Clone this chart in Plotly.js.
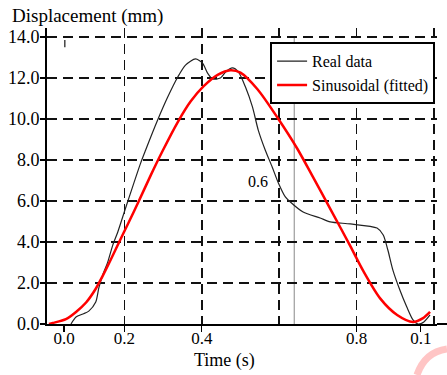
<!DOCTYPE html>
<html>
<head>
<meta charset="utf-8">
<script src="https://cdn.plot.ly/plotly-3.0.1.min.js"></script>
<style>html,body{margin:0;padding:0;background:#fff;}#chart{width:447px;height:375px;}</style>
</head>
<body>
<div id="chart"></div>
<script>
// Real data (black)
const timeReal = [0.062,0.075,0.093,0.108,0.126,0.134,0.144,0.157,0.170,0.183,0.204,0.242,0.255,0.286,0.312,0.338,0.358,0.384,0.402,0.415,0.428,0.448,0.462,0.479,0.495,0.513,0.531,0.546,0.564,0.582,0.598,0.616,0.629,0.662,0.706,0.732,0.784,0.853,0.869,0.881,0.894,0.912,0.930,0.946,0.959,0.974,0.990];
const dispReal = [0.0,0.34,0.49,0.63,1.07,1.76,2.39,3.02,3.85,4.49,5.71,7.85,8.49,9.95,11.07,12.05,12.63,12.93,12.73,12.24,11.95,12.0,12.3,12.49,12.29,11.56,10.59,9.46,8.49,7.66,6.88,6.20,5.95,5.46,5.17,4.98,4.88,4.68,4.34,3.61,2.63,1.66,0.83,0.20,0.0,0.10,0.44];
// Sinusoidal fit (red)
const timeFit = [0.005,0.015,0.049,0.075,0.101,0.126,0.144,0.165,0.186,0.211,0.235,0.268,0.299,0.338,0.371,0.405,0.441,0.474,0.500,0.544,0.598,0.647,0.688,0.737,0.784,0.817,0.861,0.905,0.946,0.972,0.990];
const dispFit = [0.0,0.05,0.24,0.59,1.05,1.72,2.35,3.15,3.98,4.95,5.9,7.25,8.45,9.85,10.85,11.6,12.15,12.38,12.26,11.45,10.0,8.55,7.15,5.45,3.8,2.6,1.25,0.44,0.10,0.29,0.59];

const yTickVals = [0,2,4,6,8,10,12,14];
const yTickText = ['0.0','2.0','4.0','6.0','8.0','10.0','12.0','14.0'];
const xGridVals = [0.2,0.4,0.6,0.8,1.0];
const xTickVals = [0.044,0.2,0.4,0.8,0.966];
const xTickText = ['0.0','0.2','0.4','0.8','0.1'];
const floatLabel = {text:'0.6', t:0.546, v:6.93};
const markerLineT = 0.639;

const serif = "'Liberation Serif', 'Times New Roman', serif";

const traces = [
  {x: timeReal, y: dispReal, type:'scatter', mode:'lines', name:'Real data',
   line:{color:'#222', width:1.2, shape:'spline', smoothing:0.7}},
  {x: timeFit, y: dispFit, type:'scatter', mode:'lines', name:'Sinusoidal (fitted)',
   line:{color:'#ff0000', width:2.5, shape:'spline', smoothing:0.8}},
  {x: [], y: [], xaxis:'x2', yaxis:'y', type:'scatter', mode:'lines', showlegend:false, hoverinfo:'skip'}
];

const layout = {
  width:447, height:375,
  margin:{l:47, r:10, t:28, b:51, pad:0},
  paper_bgcolor:'#fff', plot_bgcolor:'#fff',
  font:{family:serif, color:'#000'},
  title:{text:'Displacement (mm)', font:{family:serif, size:19, color:'#000'},
         x:12/447, xanchor:'left', xref:'container', y:1-15/375, yanchor:'middle', yref:'container'},
  showlegend:true,
  legend:{x:0.572, y:0.952, xanchor:'left', yanchor:'top', bgcolor:'#fff',
          bordercolor:'#000', borderwidth:2, tracegroupgap:0,
          font:{family:serif, size:16, color:'#000'}},
  xaxis:{range:[0,1.008], tickmode:'array', tickvals:xGridVals, showticklabels:false, ticks:'',
         showgrid:true, gridcolor:'#111', gridwidth:1.5, griddash:'10px,6px',
         zeroline:false, showline:true, linecolor:'#000', linewidth:2},
  xaxis2:{range:[0,1.008], overlaying:'x', anchor:'y', side:'bottom', tickmode:'array',
          tickvals:xTickVals, ticktext:xTickText, ticks:'outside', ticklen:7, tickwidth:1.2, tickcolor:'#000',
          ticklabelstandoff:-8,
          showgrid:false, zeroline:false, showline:false,
          tickfont:{family:serif, size:17, color:'#000'}},
  yaxis:{range:[0,14.44], tickmode:'array', tickvals:yTickVals, ticktext:yTickText,
         ticks:'outside', ticklen:5, tickwidth:1.5, tickcolor:'#000', ticklabelstandoff:-3,
         showgrid:true, gridcolor:'#111', gridwidth:1.5, griddash:'10px,6px',
         zeroline:false, showline:true, linecolor:'#000', linewidth:2,
         tickfont:{family:serif, size:18, color:'#000'}},
  annotations:[
    {text:floatLabel.text, x:floatLabel.t, y:floatLabel.v, xref:'x', yref:'y', showarrow:false,
     font:{family:serif, size:16, color:'#000'}, bgcolor:'rgba(255,255,255,0)'},
    {text:'Time (s)', x:(224-47)/390, y:(324-360)/296, xref:'paper', yref:'paper', showarrow:false,
     xanchor:'center', yanchor:'middle', font:{family:serif, size:18, color:'#000'}}
  ],
  shapes:[
    {type:'line', xref:'x', yref:'y', x0:markerLineT, x1:markerLineT, y0:0, y1:14, layer:'below',
     line:{color:'#888', width:1}},
    {type:'line', xref:'x', yref:'y', x0:0.046, x1:0.046, y0:13.5, y1:13.85,
     line:{color:'#444', width:1.5}},
    {type:'line', xref:'paper', yref:'paper', x0:1, x1:(447-47)/390, y0:0, y1:0,
     line:{color:'#000', width:2}},
    {type:'path', xref:'paper', yref:'paper',
     path:'M 0.9487 -0.1723 Q 0.969 -0.0946 1.0256 -0.0845',
     line:{color:'rgba(255,90,90,0.35)', width:7}}
  ]
};

Plotly.newPlot('chart', traces, layout, {staticPlot:true, displayModeBar:false});
</script>
</body>
</html>
